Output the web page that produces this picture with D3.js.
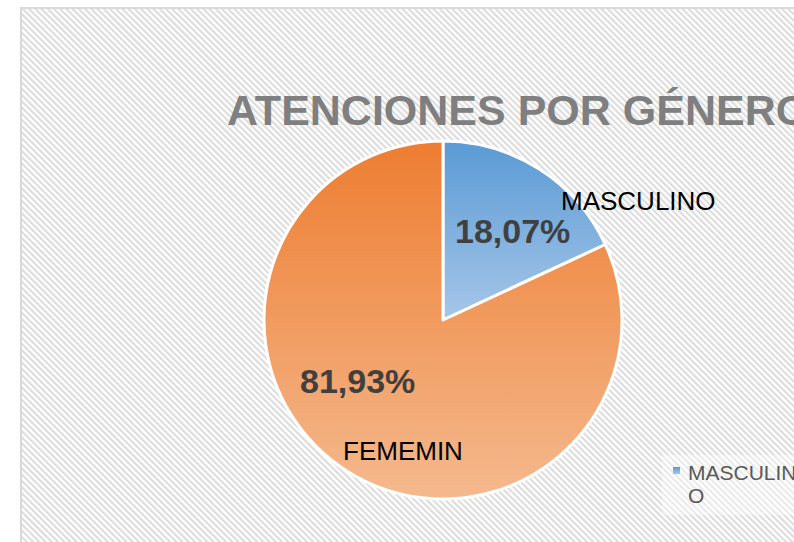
<!DOCTYPE html>
<html>
<head>
<meta charset="utf-8">
<script src="https://cdn.jsdelivr.net/npm/d3@7"></script>
<style>
html,body{margin:0;padding:0;background:#fff;overflow:hidden;}
svg{display:block;}
text{font-family:"Liberation Sans", Arial, sans-serif;}
</style>
</head>
<body>
<svg id="chart" width="794" height="542"></svg>
<script>
const title = "ATENCIONES POR GÉNERO";
const categories = ["MASCULINO", "FEMEMIN"];
const values = [18.07, 81.93];
const valueLabels = ["18,07%", "81,93%"];
const legendLabels = ["MASCULIN", "O"];

const svg = d3.select("#chart");
const W = 794, H = 542;
const defs = svg.append("defs");

// diagonal stripe pattern
const pat = defs.append("pattern").attr("id","stripes")
  .attr("patternUnits","userSpaceOnUse").attr("width",4.4).attr("height",4.4)
  .attr("patternTransform","rotate(-45)");
pat.append("rect").attr("width",4.4).attr("height",4.4).attr("fill","#ffffff");
pat.append("rect").attr("width",2.1).attr("height",4.4).attr("fill","#dcdcdc");

// chart area
svg.append("rect").attr("x",21).attr("y",8).attr("width",W+20).attr("height",H+20)
  .attr("fill","url(#stripes)").attr("stroke","#d9d9d9").attr("stroke-width",2);

// gradients
const grads = [
  {id:"gBlue", top:"#5a9ad4", bottom:"#a6c6e9"},
  {id:"gOrange", top:"#ed7d31", bottom:"#f5b98e"}
];
grads.forEach(g=>{
  const lg = defs.append("linearGradient").attr("id",g.id)
    .attr("x1",0).attr("y1",0).attr("x2",0).attr("y2",1);
  lg.append("stop").attr("offset","0%").attr("stop-color",g.top);
  lg.append("stop").attr("offset","100%").attr("stop-color",g.bottom);
});

// title
svg.append("text").attr("x",227).attr("y",125)
  .attr("font-size",43).attr("font-weight","bold").attr("fill","#7f7f7f")
  .text(title);

// pie
const cx = 443, cy = 320, r = 179;
const pie = d3.pie().sort(null).value(d=>d)(values);
const arc = d3.arc().innerRadius(0).outerRadius(r);
const g = svg.append("g").attr("transform",`translate(${cx},${cy})`);
g.selectAll("path").data(pie).enter().append("path")
  .attr("d",arc)
  .attr("fill",(d,i)=>`url(#${grads[i].id})`)
  .attr("stroke","#ffffff").attr("stroke-width",3).attr("stroke-linejoin","round");

// value labels
const valPos = [[455,243],[300,393]];
const catPos = [[561,210],[343,460]];
pie.forEach((d,i)=>{
  svg.append("text").attr("x",valPos[i][0]).attr("y",valPos[i][1])
    .attr("font-size",34).attr("font-weight","bold").attr("fill","#404040")
    .text(valueLabels[i]);
  svg.append("text").attr("x",catPos[i][0]).attr("y",catPos[i][1])
    .attr("font-size",26).attr("fill","#000000")
    .text(categories[i]);
});

// legend
svg.append("rect").attr("x",662).attr("y",455).attr("width",140).attr("height",60)
  .attr("fill","#ffffff").attr("opacity",0.4);
svg.append("rect").attr("x",673).attr("y",467).attr("width",7).attr("height",7)
  .attr("fill","url(#gBlue)");
legendLabels.forEach((t,i)=>{
  svg.append("text").attr("x",688).attr("y",480 + i*23)
    .attr("font-size",21).attr("fill","#595959").text(t);
});
</script>
</body>
</html>
